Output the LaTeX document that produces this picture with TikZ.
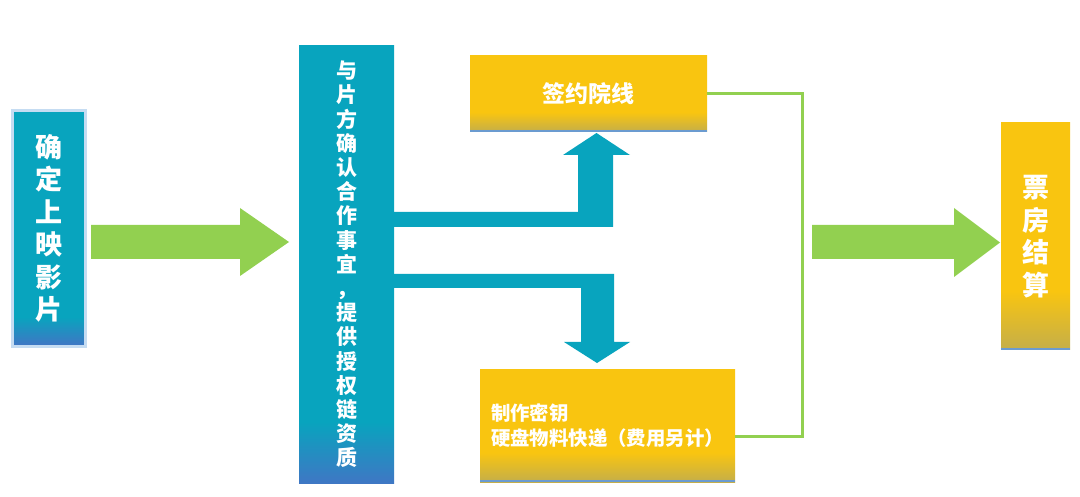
\documentclass[tikz,border=0pt]{standalone}
\usepackage{fontspec}
\newfontfamily\cjk{Noto Sans CJK SC}
\definecolor{teal1}{HTML}{08A4BE}
\definecolor{blue1}{HTML}{3F77C4}
\definecolor{yel}{HTML}{F9C510}
\definecolor{olive1}{HTML}{C4AE4A}
\definecolor{bline}{HTML}{6B9BD0}
\definecolor{grn}{HTML}{92D050}
\definecolor{glow}{HTML}{C5DCF2}
\pgfdeclareverticalshading{tealL}{100bp}{color(0bp)=(blue1); color(25bp)=(blue1); color(31bp)=(teal1); color(100bp)=(teal1)}
\pgfdeclareverticalshading{tealM}{100bp}{color(0bp)=(blue1); color(25bp)=(blue1); color(32bp)=(teal1); color(100bp)=(teal1)}
\pgfdeclareverticalshading{yelS}{100bp}{color(0bp)=(olive1); color(25bp)=(olive1); color(38bp)=(yel); color(100bp)=(yel)}
\tikzset{
  tealbox/.style={rectangle, shading=#1, inner sep=0pt, text=white, align=center},
  yelbox/.style={rectangle, shading=yelS, inner sep=0pt, text=white},
  gline/.style={draw=grn, line width=3pt},
  garrow/.style={fill=grn},
  tarrow/.style={fill=teal1},
  bottomline/.style={fill=bline},
}
\begin{document}
\begin{tikzpicture}[x=1pt,y=-1pt]
\useasboundingbox (0,0) rectangle (1080,497);
\fill[white] (0,0) rectangle (1080,497);

% left box
\node[tealbox=tealL, minimum width=70pt, minimum height=233pt,
  font=\cjk\bfseries\fontsize{27}{32.5}\selectfont] (L) at (49,228.5)
  {确\\定\\上\\映\\影\\片};
\draw[glow, line width=3pt] ([shift={(-1.5pt,1.5pt)}]L.north west) rectangle ([shift={(1.5pt,-1.5pt)}]L.south east);

% middle box
\node[tealbox=tealM, minimum width=95pt, minimum height=437pt,
  font=\cjk\bfseries\fontsize{21}{24.2}\selectfont] (M) at (346.5,264.5)
  {与\\片\\方\\确\\认\\合\\作\\事\\宜\\，\\提\\供\\授\\权\\链\\资\\质};

% upper yellow box
\node[yelbox, minimum width=237pt, minimum height=76pt,
  font=\cjk\bfseries\fontsize{23}{26}\selectfont] (U) at (588.5,94) {签约院线};
\fill[bottomline] (U.south west) rectangle ([yshift=2pt]U.south east);

% lower yellow box
\node[yelbox, minimum width=255pt, minimum height=113pt, align=left,
  font=\cjk\bfseries\fontsize{19.4}{25}\selectfont] (D) at (607.5,425.5)
  {制作密钥\\硬盘物料快递（费用另计）};
\fill[bottomline] (D.south west) rectangle ([yshift=2pt]D.south east);

% right box
\node[yelbox, minimum width=69pt, minimum height=227pt, align=center,
  font=\cjk\bfseries\fontsize{27}{32.5}\selectfont] (R) at (1035.5,236.5)
  {票\\房\\结\\算};
\fill[bottomline] (R.south west) rectangle ([yshift=2pt]R.south east);

% green block arrows
\path[garrow] (91,225) -- (240,225) -- (240,208) -- (289,242) -- (240,276) -- (240,259) -- (91,259) -- cycle;
\path[garrow] (812,225) -- (954,225) -- (954,208) -- (1000,242.5) -- (954,277) -- (954,259) -- (812,259) -- cycle;

% teal bent arrows
\coordinate (a1) at (0,212);
\coordinate (a2) at (0,227);
\coordinate (b1) at (0,274);
\coordinate (b2) at (0,288);
\path[tarrow] (M.east |- a1) -- (578,212) -- (578,155) -- (563,155) -- (596.5,133) -- (630,155) -- (613,155) -- (613,227) -- (M.east |- a2) -- cycle;
\path[tarrow] (M.east |- b1) -- (614,274) -- (614,342) -- (630,342) -- (597,363) -- (564,342) -- (581,342) -- (581,288) -- (M.east |- b2) -- cycle;

% green connector line
\coordinate (gt) at (802,94);
\coordinate (gb) at (802,436);
\draw[gline] (U.east) -- (gt) -- (gb) -- (D.east |- gb);
\end{tikzpicture}
\end{document}
